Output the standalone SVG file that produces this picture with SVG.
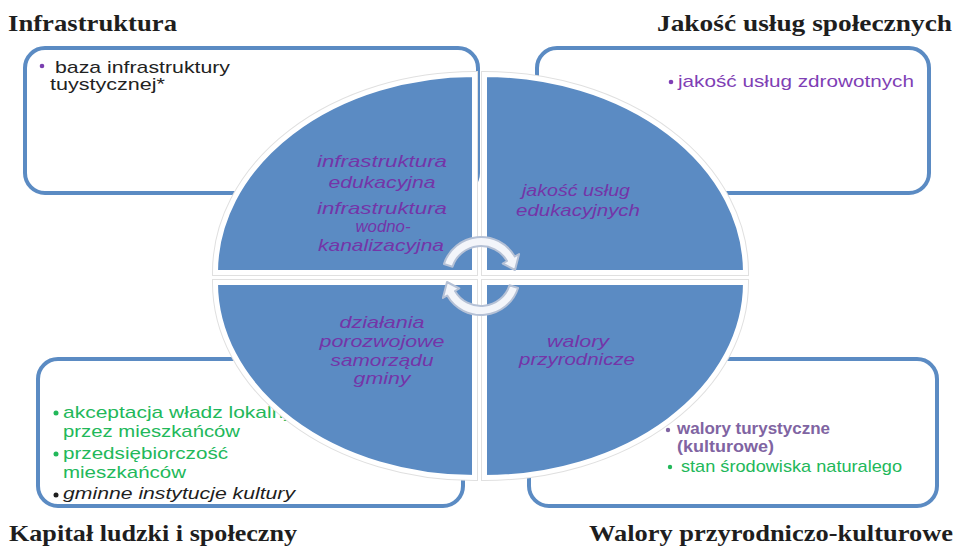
<svg xmlns="http://www.w3.org/2000/svg" width="957" height="548" viewBox="0 0 957 548">
<style>
.title{font-family:"Liberation Serif","DejaVu Serif",serif;font-weight:bold;font-size:24px;fill:#1e1e1e}
.box{fill:#ffffff;stroke:#5b8bc3;stroke-width:4}
.body{font-family:"Liberation Sans",Arial,sans-serif;font-size:17px}
.ql{font-family:"Liberation Sans",Arial,sans-serif;font-style:italic;font-size:17px;fill:#7435a8;text-anchor:middle}
.qshadow{fill:none;stroke:#e0e0e0;stroke-width:7}
.quad{fill:#5b8bc3;stroke:#ffffff;stroke-width:5}
.arr{fill:#f3f5fa;stroke:#b5c1d6;stroke-width:2;stroke-linejoin:round}
</style>
<rect width="957" height="548" fill="#ffffff"/>

<g id="titles">
<text class="title" x="8" y="31" textLength="169" lengthAdjust="spacingAndGlyphs">Infrastruktura</text>
<text class="title" x="657" y="31" textLength="295" lengthAdjust="spacingAndGlyphs">Jakość  usług  społecznych</text>
<text class="title" x="9" y="541" textLength="288" lengthAdjust="spacingAndGlyphs">Kapitał ludzki i społeczny</text>
<text class="title" x="589" y="541" textLength="364" lengthAdjust="spacingAndGlyphs">Walory przyrodniczo-kulturowe</text>
</g>

<g id="box-infrastruktura">
<rect class="box" x="25" y="48" width="453" height="145" rx="20"/>
<circle cx="42" cy="66" r="2.3" fill="#7a3fb0"/>
<text class="body" x="55" y="73" fill="#222" textLength="175" lengthAdjust="spacingAndGlyphs">baza infrastruktury</text>
<text class="body" x="50" y="90" fill="#222" textLength="115" lengthAdjust="spacingAndGlyphs">tuystycznej*</text>
</g>

<g id="box-jakosc">
<rect class="box" x="537" y="48" width="392" height="145" rx="20"/>
<circle cx="671" cy="82" r="2.3" fill="#7f3fb5"/>
<text class="body" x="678" y="87" fill="#7f3fb5" font-size="18" textLength="236" lengthAdjust="spacingAndGlyphs">jakość usług zdrowotnych</text>
</g>

<g id="box-kapital">
<rect class="box" x="38" y="359" width="425" height="147" rx="20"/>
<circle cx="56" cy="413" r="2.5" fill="#22b85a"/>
<text class="body" x="63" y="418" fill="#22b85a" font-size="16" textLength="253" lengthAdjust="spacingAndGlyphs">akceptacja władz lokalnych</text>
<text class="body" x="63" y="437" fill="#22b85a" font-size="16" textLength="177" lengthAdjust="spacingAndGlyphs">przez mieszkańców</text>
<circle cx="56" cy="454" r="2.5" fill="#22b85a"/>
<text class="body" x="63" y="459" fill="#22b85a" font-size="16" textLength="165" lengthAdjust="spacingAndGlyphs">przedsiębiorczość</text>
<text class="body" x="63" y="478" fill="#22b85a" font-size="16" textLength="123" lengthAdjust="spacingAndGlyphs">mieszkańców</text>
<circle cx="56" cy="495" r="2.5" fill="#1e1e1e"/>
<text class="body" x="63" y="499" fill="#1e1e1e" font-size="16" font-style="italic" textLength="232" lengthAdjust="spacingAndGlyphs">gminne instytucje kultury</text>
</g>

<g id="box-walory">
<rect class="box" x="529" y="359" width="408" height="147" rx="20"/>
<circle cx="668" cy="430" r="2.2" fill="#8064a2"/>
<text class="body" x="677" y="434" fill="#8064a2" font-weight="bold" font-size="13" textLength="153" lengthAdjust="spacingAndGlyphs">walory turystyczne</text>
<text class="body" x="677" y="452" fill="#8064a2" font-weight="bold" font-size="13" textLength="97" lengthAdjust="spacingAndGlyphs">(kulturowe)</text>
<circle cx="670" cy="467" r="2.2" fill="#22b85a"/>
<text class="body" x="681" y="472" fill="#22b85a" font-size="15" textLength="221" lengthAdjust="spacingAndGlyphs">stan środowiska naturalego</text>
</g>

<g id="quadrant-tl">
<path class="qshadow" d="M474.5 272.5 L215.5 272.5 A259 198 0 0 1 474.5 74.5 Z"/>
<path class="quad" d="M474.5 272.5 L215.5 272.5 A259 198 0 0 1 474.5 74.5 Z"/>
<text class="ql" x="382" y="167" textLength="130" lengthAdjust="spacingAndGlyphs">infrastruktura</text>
<text class="ql" x="382" y="188" textLength="107" lengthAdjust="spacingAndGlyphs">edukacyjna</text>
<text class="ql" x="382" y="214" textLength="130" lengthAdjust="spacingAndGlyphs">infrastruktura</text>
<text class="ql" x="383" y="232" textLength="55" lengthAdjust="spacingAndGlyphs">wodno-</text>
<text class="ql" x="381" y="251" textLength="126" lengthAdjust="spacingAndGlyphs">kanalizacyjna</text>
</g>

<g id="quadrant-tr">
<path class="qshadow" d="M484.5 272.5 L484.5 74.5 A261 198 0 0 1 745.5 272.5 Z"/>
<path class="quad" d="M484.5 272.5 L484.5 74.5 A261 198 0 0 1 745.5 272.5 Z"/>
<text class="ql" x="576" y="196" textLength="108" lengthAdjust="spacingAndGlyphs">jakość usług</text>
<text class="ql" x="578" y="216" textLength="124" lengthAdjust="spacingAndGlyphs">edukacyjnych</text>
</g>

<g id="quadrant-bl">
<path class="qshadow" d="M474.5 282.5 L474.5 477.5 A259 195 0 0 1 215.5 282.5 Z"/>
<path class="quad" d="M474.5 282.5 L474.5 477.5 A259 195 0 0 1 215.5 282.5 Z"/>
<text class="ql" x="382" y="328" textLength="85" lengthAdjust="spacingAndGlyphs">działania</text>
<text class="ql" x="382" y="347" textLength="125" lengthAdjust="spacingAndGlyphs">porozwojowe</text>
<text class="ql" x="382" y="366" textLength="103" lengthAdjust="spacingAndGlyphs">samorządu</text>
<text class="ql" x="382" y="384" textLength="57" lengthAdjust="spacingAndGlyphs">gminy</text>
</g>

<g id="quadrant-br">
<path class="qshadow" d="M484.5 282.5 L745.5 282.5 A261 195 0 0 1 484.5 477.5 Z"/>
<path class="quad" d="M484.5 282.5 L745.5 282.5 A261 195 0 0 1 484.5 477.5 Z"/>
<text class="ql" x="578" y="347" textLength="62" lengthAdjust="spacingAndGlyphs">walory</text>
<text class="ql" x="577" y="365" textLength="116" lengthAdjust="spacingAndGlyphs">przyrodnicze</text>
</g>

<g id="connectors">
<path class="arr" d="M443.9 264 A39 39 0 0 1 514.8 256.5 L519.1 254 L515 270 L502.7 263.5 L507 261 A30 30 0 0 0 452.5 266.7 Z"/>
<path class="arr" d="M518.1 288 A39 39 0 0 1 447.2 295.5 L442.9 298 L447 282 L459.3 288.5 L455 291 A30 30 0 0 0 509.5 285.3 Z"/>
</g>
</svg>
